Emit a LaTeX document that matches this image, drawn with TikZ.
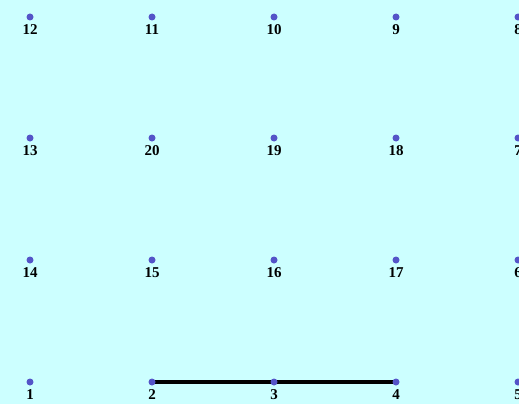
\documentclass[tikz,border=0pt]{standalone}
\usepackage{fontspec}
\setmainfont{Liberation Serif}
\usetikzlibrary{backgrounds}

\begin{document}
\begin{tikzpicture}[x=1pt,y=-1pt,
  every node/.style={font=\fontsize{15}{15}\selectfont\bfseries},
  pt/.style={circle,fill=dotblue,inner sep=0pt,minimum size=7pt},
  lbl/.style={inner sep=0pt,label distance=3.5pt}]
\definecolor{dotblue}{RGB}{84,84,200}
\definecolor{bgcyan}{RGB}{204,255,255}
\useasboundingbox (0,0) rectangle (519,404);
% grid of points: number / column x / row y
\foreach \n/\px/\py in {1/30/382,2/152/382,3/274/382,4/396/382,5/518/382,
  14/30/260,15/152/260,16/274/260,17/396/260,6/518/260,
  13/30/138,20/152/138,19/274/138,18/396/138,7/518/138,
  12/30/17,11/152/17,10/274/17,9/396/17,8/518/17}
  \node[pt,label={[lbl]below:\n}] (p\n) at (\px,\py) {};
\begin{scope}[on background layer]
\fill[bgcyan] (0,0) rectangle (519,404);
\draw[line width=3.2pt] (p2.center) -- (p3.center) -- (p4.center);
\end{scope}
\end{tikzpicture}
\end{document}
